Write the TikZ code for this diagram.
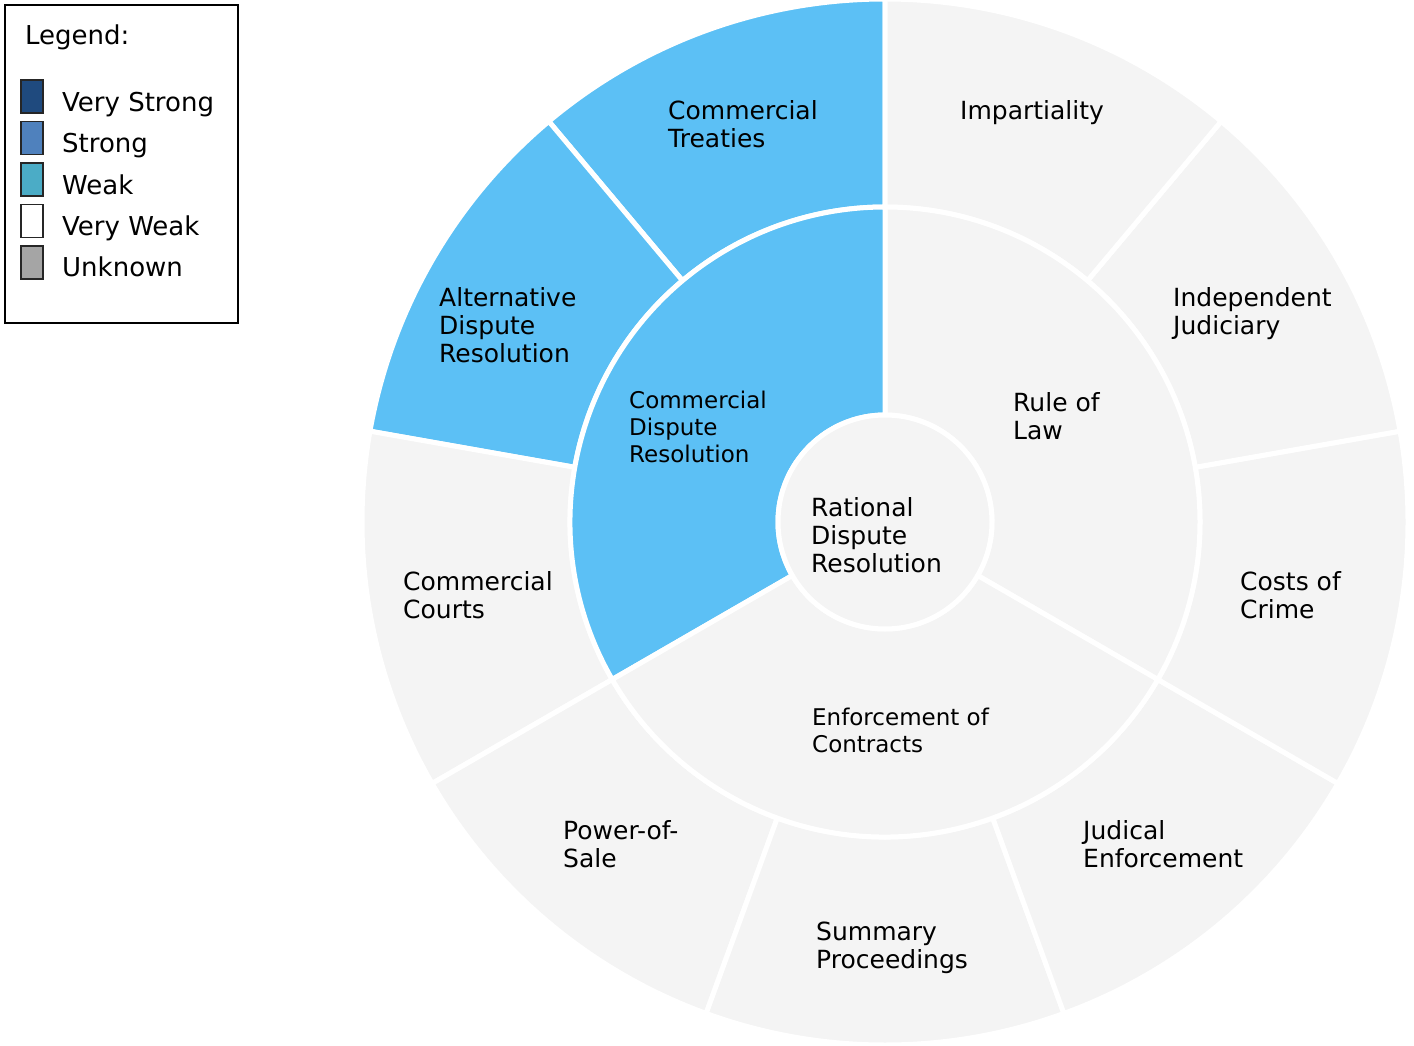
\documentclass[tikz,border=0pt]{standalone}
\usepackage{fontspec}
\setmainfont{DejaVu Sans}
\definecolor{segblue}{HTML}{5CC0F5}
\definecolor{seggrey}{HTML}{F4F4F4}
\definecolor{lvstrong}{HTML}{1F4A7E}
\definecolor{lstrong}{HTML}{4F81BD}
\definecolor{lweak}{HTML}{4BACC6}
\definecolor{lunknown}{HTML}{A5A5A5}
\tikzset{
  seg/.style={draw=white, line width=5pt, line join=miter},
  outerlbl/.style={anchor=north west, inner sep=0pt, align=left,
    font=\fontsize{25}{28}\selectfont},
  innerlbl/.style={anchor=north west, inner sep=0pt, align=left,
    font=\fontsize{23}{27}\selectfont},
  legtext/.style={anchor=base west, inner sep=0pt, font=\fontsize{26}{30}\selectfont},
  swatch/.style={draw=black!85, line width=1.6pt}
}
% annular sector: start angle, end angle, inner radius, outer radius, fill
\newcommand\ringsector[5]{%
  \path[seg, fill=#5] (#1:#3) arc[start angle=#1, end angle=#2, radius=#3]
    -- (#2:#4) arc[start angle=#2, end angle=#1, radius=#4] -- cycle;}
\begin{document}
\begin{tikzpicture}[x=1pt, y=-1pt]
\useasboundingbox (0,0) rectangle (1414,1046);
\fill[white] (0,0) rectangle (1414,1046);

% the wheel, centred, angles counter-clockwise from east
\begin{scope}[shift={(885,522)}, yscale=-1]
  % outer ring
  \ringsector{90}{130}{315}{523}{segblue}
  \ringsector{130}{170}{315}{523}{segblue}
  \ringsector{170}{210}{315}{523}{seggrey}
  \ringsector{210}{250}{315}{523}{seggrey}
  \ringsector{250}{290}{315}{523}{seggrey}
  \ringsector{290}{330}{315}{523}{seggrey}
  \ringsector{-30}{10}{315}{523}{seggrey}
  \ringsector{10}{50}{315}{523}{seggrey}
  \ringsector{50}{90}{315}{523}{seggrey}
  % middle ring
  \ringsector{-30}{90}{107}{315}{seggrey}
  \ringsector{90}{210}{107}{315}{segblue}
  \ringsector{210}{330}{107}{315}{seggrey}
  % core
  \path[seg, fill=seggrey] (0,0) circle[radius=107];
\end{scope}

% outer ring labels
\node[outerlbl] (treaties) at (668,100) {Commercial\\Treaties};
\node[outerlbl] (impart) at (960,100) {Impartiality};
\node[outerlbl] (indep) at (1173,287) {Independent\\Judiciary};
\node[outerlbl] (adr) at (439,287) {Alternative\\Dispute\\Resolution};
\node[outerlbl] (courts) at (403,571) {Commercial\\Courts};
\node[outerlbl] (crime) at (1240,571) {Costs of\\Crime};
\node[outerlbl] (power) at (563,820) {Power-of-\\Sale};
\node[outerlbl] (judical) at (1083,820) {Judical\\Enforcement};
\node[outerlbl] (summary) at (816,921.5) {Summary\\Proceedings};
% middle ring labels
\node[outerlbl] (rule) at (1013,392) {Rule of\\Law};
\node[innerlbl] (cdr) at (629,390.5) {Commercial\\Dispute\\Resolution};
\node[innerlbl] (enf) at (812,708) {Enforcement of\\Contracts};
% core label
\node[outerlbl] (core) at (811,497) {Rational\\Dispute\\Resolution};

% legend
\draw[line width=2pt] (5,5) rectangle (238,323);
\node[legtext] (legtitle) at (25,45) {Legend:};
\draw[swatch, fill=lvstrong] (21,80) rectangle (43,113);
\draw[swatch, fill=lstrong] (21,121.5) rectangle (43,154.5);
\draw[swatch, fill=lweak] (21,163) rectangle (43,196);
\draw[swatch, fill=white] (21,204.5) rectangle (43,237.5);
\draw[swatch, fill=lunknown] (21,246) rectangle (43,279);
\node[legtext] (lg1) at (62,112) {Very Strong};
\node[legtext] (lg2) at (62,153) {Strong};
\node[legtext] (lg3) at (62,194) {Weak};
\node[legtext] (lg4) at (62,235) {Very Weak};
\node[legtext] (lg5) at (62,276) {Unknown};
\end{tikzpicture}
\end{document}
